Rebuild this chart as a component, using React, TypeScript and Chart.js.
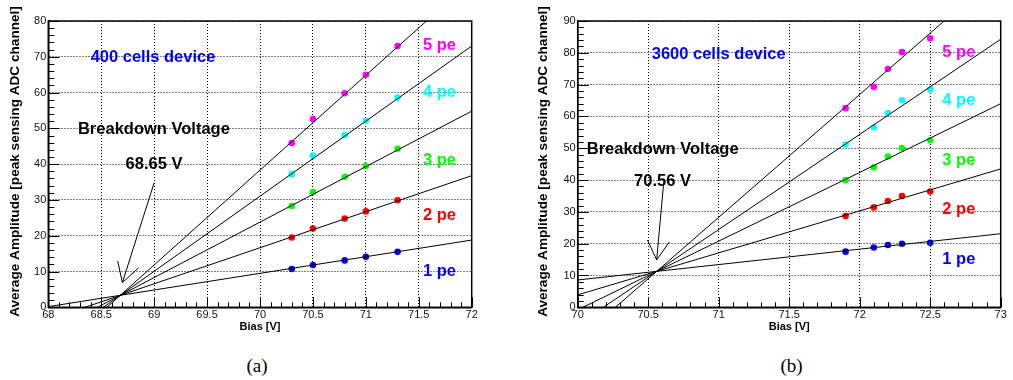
import React, { useEffect, useRef } from "react";
import { Chart, registerables } from "chart.js";

Chart.register(...registerables);

const FONT = "'Liberation Sans', Arial, Helvetica, sans-serif";

// ---------- shared ----------
const peLabels = ["1 pe", "2 pe", "3 pe", "4 pe", "5 pe"];
const peColors = ["#0000ff", "#ff0000", "#00ff00", "#00ffff", "#ff00ff"];

// ---------- (a) 400 cells device ----------
const biasA = [70.3, 70.5, 70.8, 71.0, 71.3];
const a1pe = [10.7, 11.8, 13.1, 14.1, 15.5];
const a2pe = [19.5, 22.0, 24.8, 26.8, 29.9];
const a3pe = [28.3, 32.2, 36.5, 39.5, 44.3];
const a4pe = [37.2, 42.4, 48.1, 52.1, 58.6];
const a5pe = [45.9, 52.6, 59.8, 65.0, 73.0];
const aFitPivot = [68.68, 3.35]; // common crossing point of fits
const aFitSlopes = [4.65, 10.07, 15.5, 20.98, 26.5];
const aXRange = [68, 72];
const aYRange = [0, 80];
const aPeLabelX = 71.54;
const aPeLabelY = [9.9, 25.8, 40.9, 60.0, 73.1];
const aDevice = "400 cells device";
const aDevicePos = [68.4, 69.7];
const aBreakdownPos = [68.28, 49.8];
const aVoltage = "68.65 V";
const aVoltagePos = [68.73, 39.8];
const aArrow = [69.0, 34.8, 68.7, 6.9];

// ---------- (b) 3600 cells device ----------
const biasB = [71.9, 72.1, 72.2, 72.3, 72.5];
const b1pe = [17.5, 18.8, 19.6, 20.0, 20.3];
const b2pe = [28.7, 31.4, 33.4, 35.0, 36.4];
const b3pe = [40.0, 44.0, 47.4, 50.1, 52.5];
const b4pe = [51.2, 56.6, 61.1, 65.1, 68.5];
const b5pe = [62.6, 69.3, 74.9, 80.2, 84.6];
const bFitPivot = [70.56, 11.3];
const bFitSlopes = [4.85, 13.2, 21.6, 29.9, 38.6];
const bXRange = [70, 73];
const bYRange = [0, 90];
const bPeLabelX = 72.586;
const bPeLabelY = [15.1, 30.9, 46.1, 64.9, 80.2];
const bDevice = "3600 cells device";
const bDevicePos = [70.525, 79.5];
const bBreakdownPos = [70.064, 49.7];
const bVoltage = "70.56 V";
const bVoltagePos = [70.4, 39.7];
const bArrow = [70.61, 39.2, 70.56, 14.9];

const xTitle = "Bias [V]";
const yTitle = "Average Amplitude [peak sensing ADC channel]";
const breakdownText = "Breakdown Voltage";

type Spec = {
  width: number;
  height: number;
  padLeft: number;
  padRight: number;
  padTop: number;
  plotBottom: number;
  yTitleX: number;
  bias: number[];
  series: number[][];
  pivot: number[];
  slopes: number[];
  xRange: number[];
  yRange: number[];
  peLabelX: number;
  peLabelY: number[];
  device: string;
  devicePos: number[];
  breakdownPos: number[];
  voltage: string;
  voltagePos: number[];
  arrow: number[];
};

function makeOverlay(spec: Spec) {
  return {
    id: "rootOverlay",
    beforeDatasetsDraw(chart: any) {
      const ctx = chart.ctx;
      const xs = chart.scales.x;
      const ys = chart.scales.y;
      ctx.save();
      ctx.textBaseline = "middle";
      ctx.textAlign = "left";
      ctx.font = `bold 16.5px ${FONT}`;
      ctx.fillStyle = "#0000ff";
      ctx.fillText(spec.device, xs.getPixelForValue(spec.devicePos[0]), ys.getPixelForValue(spec.devicePos[1]));
      ctx.fillStyle = "#000000";
      ctx.fillText(breakdownText, xs.getPixelForValue(spec.breakdownPos[0]), ys.getPixelForValue(spec.breakdownPos[1]));
      ctx.fillText(spec.voltage, xs.getPixelForValue(spec.voltagePos[0]), ys.getPixelForValue(spec.voltagePos[1]));
      peLabels.forEach((lab, i) => {
        ctx.fillStyle = peColors[i];
        ctx.fillText(lab, xs.getPixelForValue(spec.peLabelX), ys.getPixelForValue(spec.peLabelY[i]));
      });
      ctx.restore();
    },
    afterDatasetsDraw(chart: any) {
      const ctx = chart.ctx;
      const xs = chart.scales.x;
      const ys = chart.scales.y;
      const area = chart.chartArea;
      ctx.save();
      ctx.strokeStyle = "#000";
      ctx.lineWidth = 1;
      const [x0, x1] = spec.xRange;
      const nx = Math.round((x1 - x0) / 0.1);
      for (let i = 0; i <= nx; i++) {
        const v = x0 + i * 0.1;
        const px = Math.round(xs.getPixelForValue(v)) + 0.5;
        const len = i % 5 === 0 ? 10 : 5;
        ctx.beginPath();
        ctx.moveTo(px, area.bottom);
        ctx.lineTo(px, area.bottom - len);
        ctx.stroke();
      }
      const [y0, y1] = spec.yRange;
      const ny = Math.round((y1 - y0) / 2);
      for (let i = 0; i <= ny; i++) {
        const v = y0 + i * 2;
        const py = Math.round(ys.getPixelForValue(v)) + 0.5;
        const len = i % 5 === 0 ? 11 : 6;
        ctx.beginPath();
        ctx.moveTo(area.left, py);
        ctx.lineTo(area.left + len, py);
        ctx.stroke();
      }
      ctx.lineWidth = 1.5;
      ctx.strokeRect(area.left, area.top, area.right - area.left, area.bottom - area.top);
      ctx.lineWidth = 1;
      const sx = xs.getPixelForValue(spec.arrow[0]);
      const sy = ys.getPixelForValue(spec.arrow[1]);
      const tx = xs.getPixelForValue(spec.arrow[2]);
      const ty = ys.getPixelForValue(spec.arrow[3]);
      const ang = Math.atan2(sy - ty, sx - tx);
      const headLen = 22;
      const spread = (30 * Math.PI) / 180;
      ctx.beginPath();
      ctx.moveTo(sx, sy);
      ctx.lineTo(tx, ty);
      ctx.moveTo(tx + headLen * Math.cos(ang - spread), ty + headLen * Math.sin(ang - spread));
      ctx.lineTo(tx, ty);
      ctx.lineTo(tx + headLen * Math.cos(ang + spread), ty + headLen * Math.sin(ang + spread));
      ctx.stroke();
      ctx.fillStyle = "#000";
      ctx.textAlign = "center";
      ctx.textBaseline = "middle";
      ctx.font = `bold 11px ${FONT}`;
      ctx.fillText(xTitle, (area.left + area.right) / 2, 327);
      ctx.font = `bold 13.6px ${FONT}`;
      ctx.translate(spec.yTitleX, 161.5);
      ctx.rotate(-Math.PI / 2);
      ctx.fillText(yTitle, 0, 0);
      ctx.restore();
    },
  };
}

const fmtTick = (v: any) => `${+(+v).toFixed(2)}`;

function Panel({ spec, left }: { spec: Spec; left: number }) {
  const ref = useRef<HTMLCanvasElement | null>(null);
  useEffect(() => {
    if (!ref.current) return;
    const [x0, x1] = spec.xRange;
    const datasets: any[] = [];
    spec.slopes.forEach((s) => {
      datasets.push({
        type: "line",
        data: [
          { x: x0, y: spec.pivot[1] + s * (x0 - spec.pivot[0]) },
          { x: x1, y: spec.pivot[1] + s * (x1 - spec.pivot[0]) },
        ],
        borderColor: "#000",
        borderWidth: 1,
        pointRadius: 0,
        showLine: true,
        fill: false,
      });
    });
    spec.series.forEach((vals, i) => {
      datasets.push({
        type: "scatter",
        data: vals.map((v, j) => ({ x: spec.bias[j], y: v })),
        backgroundColor: peColors[i],
        borderColor: peColors[i],
        borderWidth: 0,
        pointRadius: 3.3,
        showLine: false,
      });
    });
    const chart = new Chart(ref.current, {
      type: "scatter",
      data: { datasets },
      options: {
        responsive: false,
        animation: false,
        devicePixelRatio: 1,
        layout: {
          padding: { left: 0, right: spec.padRight, top: spec.padTop, bottom: 0 },
        },
        plugins: { legend: { display: false }, tooltip: { enabled: false } },
        scales: {
          x: {
            type: "linear",
            min: spec.xRange[0],
            max: spec.xRange[1],
            afterFit: (s: any) => {
              s.height = spec.height - spec.plotBottom;
            },
            ticks: {
              stepSize: 0.5,
              autoSkip: false,
              maxRotation: 0,
              padding: 1,
              color: "#111",
              font: { family: FONT, size: 11 },
              callback: fmtTick,
            },
            grid: { color: "#000", lineWidth: 1, drawTicks: false },
            border: { display: true, color: "#000", width: 1.5, dash: [1, 2] },
          },
          y: {
            type: "linear",
            min: spec.yRange[0],
            max: spec.yRange[1],
            afterFit: (s: any) => {
              s.width = spec.padLeft;
            },
            ticks: {
              stepSize: 10,
              autoSkip: false,
              padding: 2,
              color: "#111",
              font: { family: FONT, size: 11 },
              callback: fmtTick,
            },
            grid: { color: "#000", lineWidth: 1, drawTicks: false },
            border: { display: true, color: "#000", width: 1.5, dash: [1, 2] },
          },
        },
      },
      plugins: [makeOverlay(spec)],
    } as any);
    return () => chart.destroy();
  }, [spec]);
  return (
    <canvas
      ref={ref}
      width={spec.width}
      height={spec.height}
      style={{ position: "absolute", left, top: 0, width: spec.width, height: spec.height }}
    />
  );
}

const specA: Spec = {
  width: 500,
  height: 345,
  padLeft: 48.3,
  padRight: 28.3,
  padTop: 21,
  plotBottom: 307.3,
  yTitleX: 15,
  bias: biasA,
  series: [a1pe, a2pe, a3pe, a4pe, a5pe],
  pivot: aFitPivot,
  slopes: aFitSlopes,
  xRange: aXRange,
  yRange: aYRange,
  peLabelX: aPeLabelX,
  peLabelY: aPeLabelY,
  device: aDevice,
  devicePos: aDevicePos,
  breakdownPos: aBreakdownPos,
  voltage: aVoltage,
  voltagePos: aVoltagePos,
  arrow: aArrow,
};

const specB: Spec = {
  width: 503,
  height: 345,
  padLeft: 67.7,
  padRight: 12.3,
  padTop: 21,
  plotBottom: 307.3,
  yTitleX: 33.3,
  bias: biasB,
  series: [b1pe, b2pe, b3pe, b4pe, b5pe],
  pivot: bFitPivot,
  slopes: bFitSlopes,
  xRange: bXRange,
  yRange: bYRange,
  peLabelX: bPeLabelX,
  peLabelY: bPeLabelY,
  device: bDevice,
  devicePos: bDevicePos,
  breakdownPos: bBreakdownPos,
  voltage: bVoltage,
  voltagePos: bVoltagePos,
  arrow: bArrow,
};

const captionStyle: React.CSSProperties = {
  position: "absolute",
  top: 354,
  width: 60,
  textAlign: "center",
  fontFamily: "'Liberation Serif', 'Times New Roman', serif",
  fontSize: 19,
  lineHeight: "24px",
  color: "#000",
};

export default function App() {
  return (
    <div
      style={{
        position: "fixed",
        left: 0,
        top: 0,
        width: 1013,
        height: 380,
        background: "#fff",
        overflow: "hidden",
      }}
    >
      <Panel spec={specA} left={0} />
      <Panel spec={specB} left={510} />
      <div style={{ ...captionStyle, left: 257 - 30 }}>(a)</div>
      <div style={{ ...captionStyle, left: 791.5 - 30 }}>(b)</div>
    </div>
  );
}
